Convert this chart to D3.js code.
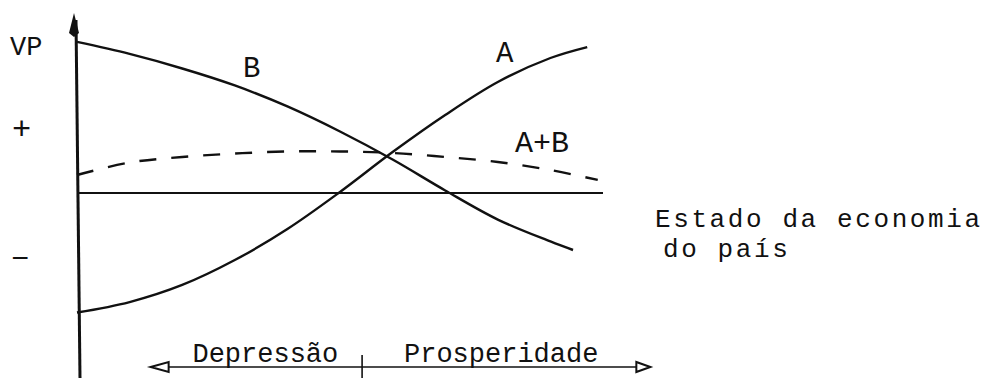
<!DOCTYPE html>
<html>

<head>
  <meta charset='utf-8'>
  <script type="text/javascript" src="https://cdn.jsdelivr.net/npm/d3@7/dist/d3.min.js"></script>
  <style>
    body { margin: 0; background: #fff; }
    text { font-family: "Liberation Mono", "Courier New", monospace; fill: #111; }
  </style>
</head>

<body>
</body>
<script>
  // estado da economia (0..10) e VP
  let xs = [0, 1, 2, 3, 4, 5, 6, 7, 8, 9]
  let valA = [-7.97, -7.27, -6.13, -4.47, -2.4, 0.07, 2.73, 5.2, 7.4, 9.0]
  let valB = [10.07, 9.27, 8.3, 7.17, 5.77, 4.1, 2.23, 0.17, -1.77, -3.23]
  let valAB = [1.2, 2.03, 2.4, 2.63, 2.77, 2.77, 2.67, 2.4, 2.07, 1.53]
  // ultimo ponto de cada curva
  let endA = [9.7, 9.73]
  let endB = [9.43, -3.8]
  let endAB = [9.9, 0.87]
  let regions = ["Depressão", "Prosperidade"]
  let regionX = [1.4, 5.42, 10.9]

  let w = 993
  let h = 378

  let xScale = d3.scaleLinear()
    .domain([0, 10])
    .range([77, 603])

  let yScale = d3.scaleLinear()
    .domain([-12, 12])
    .range([373, 13])

  let svg = d3.select('body')
    .append('svg')
    .attr('width', w)
    .attr('height', h);

  function pts(vals, end) {
    let p = xs.map((x, i) => [x, vals[i]])
    p.push(end)
    return p
  }

  let line = d3.line()
    .x(d => xScale(d[0]))
    .y(d => yScale(d[1]))
    .curve(d3.curveCatmullRom.alpha(0.5))

  // eixo VP
  svg.append("line")
    .attr("x1", 76).attr("y1", 20)
    .attr("x2", 80).attr("y2", h)
    .attr("stroke", "#111")
    .attr("stroke-width", 3)
  svg.append("path")
    .attr("d", "M74,13 L79,33 L74,37 L69,33 Z")
    .attr("fill", "#111")

  // linha do zero
  svg.append("line")
    .attr("x1", xScale(0)).attr("y1", yScale(0))
    .attr("x2", xScale(10)).attr("y2", yScale(0))
    .attr("stroke", "#111")
    .attr("stroke-width", 2.2)

  svg.append("path")
    .datum(pts(valB, endB))
    .attr("d", line)
    .attr("fill", "none")
    .attr("stroke", "#111")
    .attr("stroke-width", 2.4)

  svg.append("path")
    .datum(pts(valA, endA))
    .attr("d", line)
    .attr("fill", "none")
    .attr("stroke", "#111")
    .attr("stroke-width", 2.4)

  svg.append("path")
    .datum(pts(valAB, endAB))
    .attr("d", line)
    .attr("fill", "none")
    .attr("stroke", "#111")
    .attr("stroke-width", 2.4)
    .attr("stroke-dasharray", "17,15")

  // rotulos
  svg.append("text").attr("x", 10).attr("y", 55).attr("font-size", 27).text("VP")
  svg.append("text").attr("x", 12).attr("y", 139).attr("font-size", 32).text("+")
  svg.append("text").attr("x", 11).attr("y", 268).attr("font-size", 30).text("−")
  svg.append("text").attr("x", 243).attr("y", 77).attr("font-size", 29).text("B")
  svg.append("text").attr("x", 496).attr("y", 62).attr("font-size", 29).text("A")
  svg.append("text").attr("x", 515).attr("y", 152).attr("font-size", 30).text("A+B")
  svg.append("text").attr("x", 655).attr("y", 227).attr("font-size", 26)
    .attr("letter-spacing", 2.6).text("Estado da economia")
  svg.append("text").attr("x", 663).attr("y", 257).attr("font-size", 26)
    .attr("letter-spacing", 2.6).text("do país")

  // faixa inferior
  let by = 367
  svg.append("line")
    .attr("x1", xScale(regionX[0]) + 18).attr("y1", by)
    .attr("x2", xScale(regionX[2]) - 14).attr("y2", by)
    .attr("stroke", "#111")
    .attr("stroke-width", 1.6)
  svg.append("path")
    .attr("d", "M" + xScale(regionX[0]) + "," + by + " L" + (xScale(regionX[0]) + 18) + "," + (by - 5) + " L" + (xScale(regionX[0]) + 18) + "," + (by + 5) + " Z")
    .attr("fill", "none").attr("stroke", "#111").attr("stroke-width", 2)
  svg.append("path")
    .attr("d", "M" + xScale(regionX[2]) + "," + by + " L" + (xScale(regionX[2]) - 14) + "," + (by - 5) + " L" + (xScale(regionX[2]) - 14) + "," + (by + 5) + " Z")
    .attr("fill", "none").attr("stroke", "#111").attr("stroke-width", 2)
  svg.append("line")
    .attr("x1", xScale(regionX[1])).attr("y1", 355)
    .attr("x2", xScale(regionX[1])).attr("y2", h)
    .attr("stroke", "#111")
    .attr("stroke-width", 1.6)

  svg.selectAll(".reg")
    .data(regions)
    .enter()
    .append("text")
    .attr("class", "reg")
    .attr("x", (d, i) => (xScale(regionX[i]) + xScale(regionX[i + 1])) / 2 + (i == 0 ? 9 : -5))
    .attr("y", 362)
    .attr("text-anchor", "middle")
    .attr("font-size", 27)
    .text(d => d)
</script>

</html>
